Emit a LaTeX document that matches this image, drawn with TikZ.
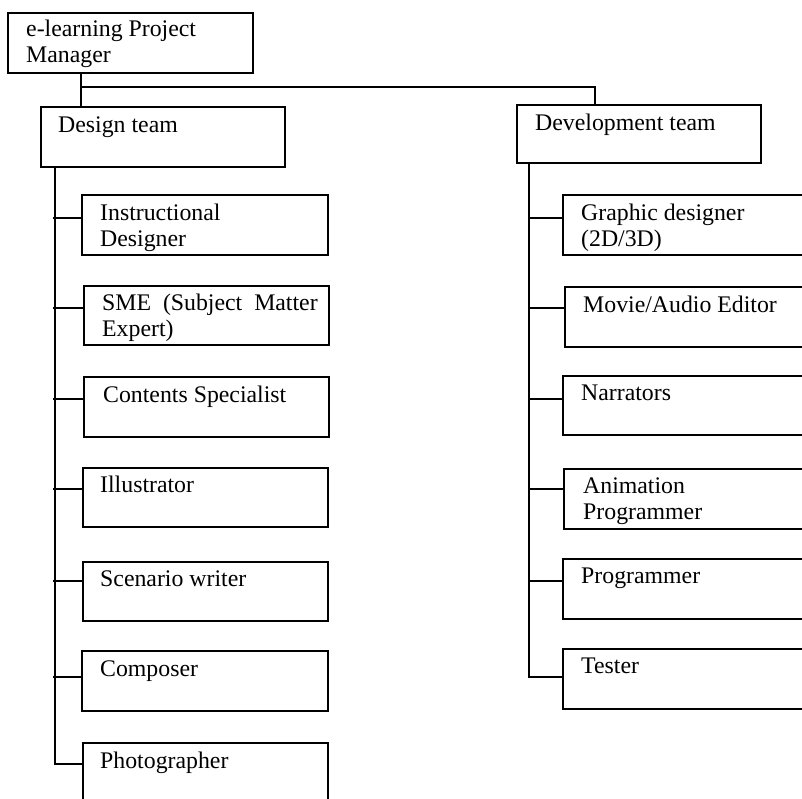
\documentclass[tikz,border=0pt]{standalone}
\usepackage{fontspec}
\setmainfont{Liberation Serif}
\newcommand{\lbltext}[1]{\parbox[t]{9cm}{\raggedright #1}}
\begin{document}
\begin{tikzpicture}[x=1pt,y=-1pt,
  boxnode/.style={draw=black, line width=1.5pt, rectangle, anchor=north west, inner sep=0pt, outer sep=0pt},
  txt/.style={anchor=base west, inner sep=0pt, font=\fontsize{23.8pt}{26pt}\selectfont},
  conn/.style={draw=black, line width=1.7pt}]
\useasboundingbox (0,0) rectangle (802,798);
% top
\node[boxnode, minimum width=245pt, minimum height=60pt] (pm) at (8,13) {};
\node[txt] (pmt) at (26,36) {\lbltext{e-learning Project\\Manager}};
\node[boxnode, minimum width=244pt, minimum height=60pt] (design) at (41,107) {};
\node[txt] (designt) at (58,132) {Design team};
\node[boxnode, minimum width=244pt, minimum height=58pt] (dev) at (517,105) {};
\node[txt] (devt) at (535,130) {Development team};
% design children
\node[boxnode, minimum width=246pt, minimum height=60pt] (ins) at (82,195) {};
\node[txt] (inst) at (100,220) {\lbltext{Instructional\\Designer}};
\node[boxnode, minimum width=245pt, minimum height=59pt] (sme) at (84,286) {};
\node[txt] (smet) at (102,310) {\lbltext{SME\ \ (Subject\ \ Matter\\Expert)}};
\node[boxnode, minimum width=245pt, minimum height=60pt] (cont) at (84,377) {};
\node[txt] (contt) at (103,402) {Contents Specialist};
\node[boxnode, minimum width=245pt, minimum height=59pt] (ill) at (83,468) {};
\node[txt] (illt) at (100,492) {Illustrator};
\node[boxnode, minimum width=245pt, minimum height=59pt] (scen) at (83,562) {};
\node[txt] (scent) at (100,586) {Scenario writer};
\node[boxnode, minimum width=246pt, minimum height=60pt] (comp) at (82,651) {};
\node[txt] (compt) at (100,676) {Composer};
\node[boxnode, minimum width=245pt, minimum height=80pt] (photo) at (83,743) {};
\node[txt] (photot) at (100,768) {Photographer};
% development children
\node[boxnode, minimum width=260pt, minimum height=60pt] (gra) at (563,195) {};
\node[txt] (grat) at (581,220) {\lbltext{Graphic designer\\(2D/3D)}};
\node[boxnode, minimum width=260pt, minimum height=60pt] (mov) at (565,287) {};
\node[txt] (movt) at (583,312) {Movie/Audio Editor};
\node[boxnode, minimum width=260pt, minimum height=59pt] (nar) at (563,376) {};
\node[txt] (nart) at (581,400) {Narrators};
\node[boxnode, minimum width=260pt, minimum height=60pt] (ani) at (564,469) {};
\node[txt] (anit) at (583,493) {\lbltext{Animation\\Programmer}};
\node[boxnode, minimum width=260pt, minimum height=60pt] (prog) at (563,559) {};
\node[txt] (progt) at (581,583) {Programmer};
\node[boxnode, minimum width=260pt, minimum height=60pt] (test) at (563,649) {};
\node[txt] (testt) at (581,673) {Tester};
% connectors top
\coordinate (pmx) at (81,0);
\coordinate (bus) at (0,87);
\coordinate (devx) at (595,0);
\draw[conn] (pm.south -| pmx) -- (design.north -| pmx);
\draw[conn] (bus -| pmx) -- (bus -| devx) -- (dev.north -| devx);
% design trunk and branches
\coordinate (dtr) at (55,0);
\coordinate (dtl) at (53,0);
\foreach \b/\y in {ins/218,sme/308,cont/399,ill/489,scen/581,comp/677}{
  \coordinate (\b-in) at (0,\y);
  \draw[conn] (dtl |- \b-in) -- (\b.west |- \b-in);
}
\coordinate (photo-in) at (0,764);
\draw[conn] (design.south -| dtr) |- (photo.west |- photo-in);
% development trunk and branches
\coordinate (vtr) at (529,0);
\foreach \b/\y in {gra/218,mov/308,nar/399,ani/489,prog/581}{
  \coordinate (\b-in) at (0,\y);
  \draw[conn] (vtr |- \b-in) -- (\b.west |- \b-in);
}
\coordinate (test-in) at (0,677);
\draw[conn] (dev.south -| vtr) |- (test.west |- test-in);
\end{tikzpicture}
\end{document}
